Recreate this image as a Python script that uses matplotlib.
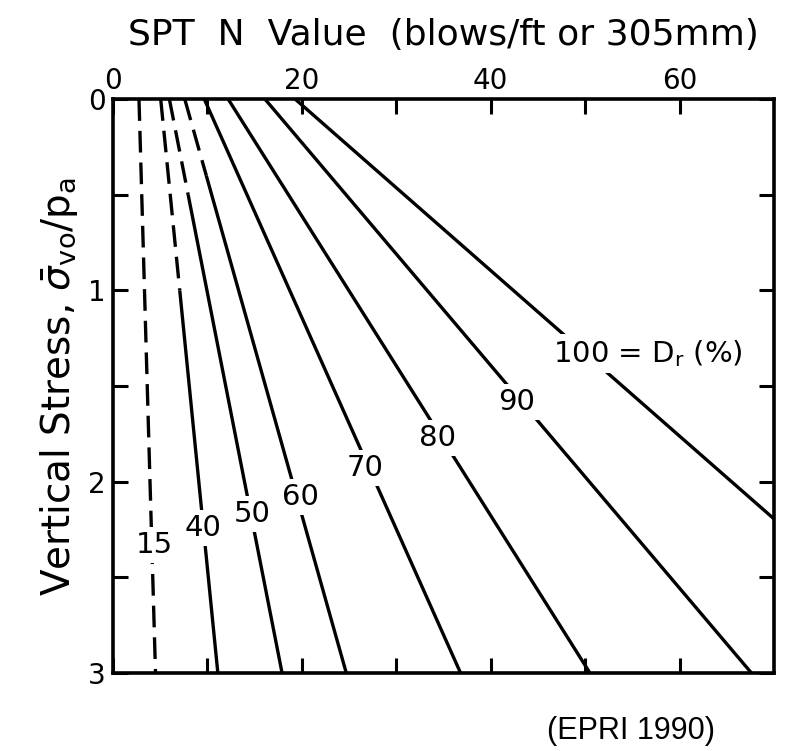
import matplotlib
matplotlib.use("Agg")
import matplotlib.pyplot as plt
from matplotlib.ticker import FixedLocator, NullFormatter

plt.rcParams['font.family'] = ['DejaVu Sans']
plt.rcParams['mathtext.fontset'] = 'dejavusans'

# Relative density curves (Dr %), N at sigma'/pa = 0 and 3
dr_labels = ["15", "40", "50", "60", "70", "80", "90", "100 = D$_\\mathrm{r}$ (%)"]
n_at_top = [2.75, 5.05, 5.97, 7.6, 9.67, 12.2, 16.1, 19.3]
n_at_bottom = [4.5, 11.1, 17.9, 24.7, 36.8, 50.5, 67.6, 88.6]
dash_until = [3.0, 1.0, 0.5, 0.4, 0.0, 0.0, 0.0, 0.0]
label_x = [4.4, 9.5, 14.7, 19.8, 26.7, 34.4, 42.7, 46.6]
label_y = [2.33, 2.24, 2.17, 2.08, 1.93, 1.77, 1.585, 1.33]
label_ha = ["center"] * 7 + ["left"]
sigma_top, sigma_bottom = 0.0, 3.0

x_major = [0, 20, 40, 60]
x_minor = [10, 30, 50]
y_major = [0, 1, 2, 3]
y_minor = [0.5, 1.5, 2.5]

fig = plt.figure(figsize=(7.87, 7.51), dpi=100)
ax = fig.add_axes([0.1436, 0.1039, 0.840, 0.764])

lw = 2.4
for nt, nb, du, lab, lx, ly, ha in zip(n_at_top, n_at_bottom, dash_until,
                                        dr_labels, label_x, label_y, label_ha):
    def n_at(s):
        return nt + (nb - nt) * (s - sigma_top) / (sigma_bottom - sigma_top)
    if du > 0:
        ax.plot([n_at(0), n_at(du)], [0, du], color='black', lw=lw,
                linestyle=(0, (6.5, 3)), solid_capstyle='butt', zorder=2)
    if du < 3:
        ax.plot([n_at(du), n_at(3)], [du, 3], color='black', lw=lw,
                solid_capstyle='butt', zorder=2)
    ax.text(lx, ly, lab, ha=ha, va='center', fontsize=21, zorder=4,
            bbox=dict(facecolor='white', edgecolor='none', pad=3))

ax.set_xlim(0, 70)
ax.set_ylim(3, 0)

ax.xaxis.set_ticks_position('both')
ax.xaxis.set_label_position('top')
ax.yaxis.set_ticks_position('both')
ax.xaxis.set_major_locator(FixedLocator(x_major))
ax.xaxis.set_minor_locator(FixedLocator(x_minor))
ax.yaxis.set_major_locator(FixedLocator(y_major))
ax.yaxis.set_minor_locator(FixedLocator(y_minor))
ax.yaxis.set_minor_formatter(NullFormatter())
ax.xaxis.set_minor_formatter(NullFormatter())
ax.tick_params(axis='x', which='both', direction='in', length=11, width=2.2,
               labeltop=True, labelbottom=False, labelsize=20, pad=3)
ax.tick_params(axis='y', which='both', direction='in', length=11, width=2.2,
               labelleft=True, labelright=False, labelsize=20, pad=5)
for sp in ax.spines.values():
    sp.set_linewidth(2.6)

ax.set_xlabel("SPT  N  Value  (blows/ft or 305mm)", fontsize=26, labelpad=16)
ax.set_ylabel(r"Vertical Stress, $\bar{\sigma}_{\mathrm{vo}}/\mathrm{p}_{\mathrm{a}}$",
              fontsize=28, labelpad=6)

fig.text(0.802, 0.026, "(EPRI 1990)", ha='center', va='center',
         fontsize=22, family='Liberation Sans')

fig.savefig("out.png", dpi=100, facecolor='white')
